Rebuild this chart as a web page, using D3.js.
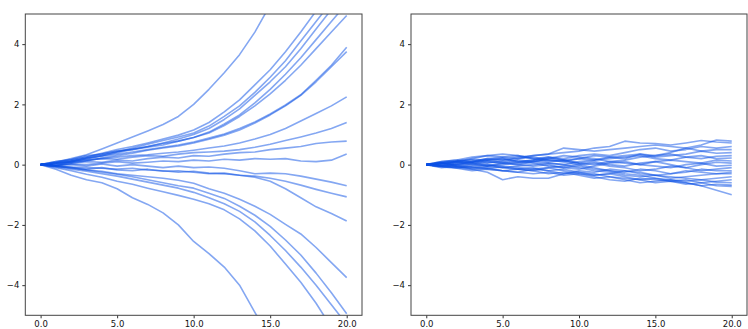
<!DOCTYPE html>
<html><head><meta charset="utf-8">
<script src="https://cdn.jsdelivr.net/npm/d3@7"></script>
<style>body{margin:0;background:#fff}svg{display:block}</style>
</head><body>
<svg id="c" width="748" height="329"></svg>
<script>
// time grid (x values)
const times = [0,1,2,3,4,5,6,7,8,9,10,11,12,13,14,15,16,17,18,19,20];
const xTicks = [0,5,10,15,20];
const yTicks = [-4,-2,0,2,4];

// left panel: diverging paths
const leftSeries = [
  [0,0.08,0.2,0.33,0.52,0.72,0.92,1.12,1.33,1.6,2.0,2.5,3.05,3.65,4.4,5.3,6.2,7.2,8.3,9.5,10.8],
  [0,0.05,0.15,0.25,0.38,0.5,0.6,0.72,0.85,0.98,1.15,1.4,1.75,2.15,2.65,3.15,3.75,4.4,5.1,5.9,6.7],
  [0,-0.02,0.1,0.2,0.3,0.42,0.55,0.68,0.8,0.92,1.05,1.28,1.6,1.95,2.4,2.9,3.45,4.1,4.75,5.4,6.1],
  [0,0.1,0.18,0.3,0.35,0.45,0.52,0.6,0.72,0.85,1.0,1.2,1.5,1.85,2.3,2.75,3.25,3.85,4.5,5.15,5.9],
  [0,0.05,0.1,0.22,0.3,0.4,0.5,0.58,0.65,0.78,0.9,1.08,1.35,1.65,2.05,2.5,3.0,3.55,4.15,4.75,5.35],
  [0,0.1,0.15,0.25,0.35,0.45,0.5,0.6,0.7,0.78,0.9,1.05,1.3,1.6,1.95,2.35,2.8,3.3,3.85,4.4,4.95],
  [0,0.05,0.12,0.2,0.28,0.35,0.42,0.5,0.58,0.65,0.75,0.88,1.02,1.2,1.42,1.68,1.98,2.32,2.8,3.3,3.9],
  [0,-0.05,0.05,0.12,0.22,0.3,0.38,0.48,0.55,0.62,0.72,0.84,0.98,1.15,1.38,1.65,1.95,2.3,2.75,3.25,3.75],
  [0,0.02,0.1,0.15,0.2,0.25,0.3,0.33,0.38,0.42,0.48,0.55,0.62,0.72,0.85,1.0,1.2,1.45,1.7,1.95,2.25],
  [0,0.05,0.08,0.15,0.2,0.18,0.25,0.3,0.28,0.35,0.4,0.42,0.45,0.5,0.58,0.68,0.8,0.92,1.05,1.2,1.4],
  [0,0.0,0.05,0.1,0.08,0.15,0.12,0.2,0.25,0.22,0.3,0.28,0.35,0.4,0.42,0.5,0.55,0.6,0.7,0.75,0.78],
  [0,-0.02,0.02,0.0,0.05,0.1,0.05,0.08,0.12,0.1,0.15,0.12,0.18,0.15,0.2,0.18,0.2,0.12,0.1,0.15,0.35],
  [0,-0.03,0.0,-0.05,0.02,-0.05,0.0,-0.05,-0.1,-0.05,-0.1,-0.08,-0.12,-0.2,-0.3,-0.28,-0.3,-0.38,-0.48,-0.58,-0.7],
  [0,-0.05,-0.08,-0.1,-0.12,-0.15,-0.12,-0.18,-0.2,-0.25,-0.22,-0.28,-0.3,-0.35,-0.38,-0.45,-0.55,-0.68,-0.82,-0.95,-1.07],
  [0,-0.05,-0.1,-0.15,-0.1,-0.18,-0.2,-0.15,-0.22,-0.2,-0.25,-0.3,-0.28,-0.35,-0.42,-0.55,-0.8,-1.1,-1.4,-1.62,-1.87],
  [0,-0.05,-0.12,-0.18,-0.22,-0.3,-0.35,-0.4,-0.45,-0.52,-0.62,-0.8,-0.95,-1.15,-1.38,-1.65,-1.98,-2.3,-2.75,-3.25,-3.75],
  [0,-0.1,-0.2,-0.32,-0.42,-0.55,-0.65,-0.78,-0.9,-1.02,-1.15,-1.3,-1.5,-1.8,-2.2,-2.7,-3.3,-3.9,-4.6,-5.4,-6.2],
  [0,-0.08,-0.15,-0.22,-0.3,-0.38,-0.48,-0.58,-0.68,-0.78,-0.92,-1.1,-1.3,-1.55,-1.9,-2.35,-2.85,-3.4,-4.0,-4.65,-5.3],
  [0,-0.05,-0.1,-0.18,-0.25,-0.32,-0.4,-0.5,-0.6,-0.7,-0.78,-0.95,-1.12,-1.38,-1.68,-2.05,-2.5,-3.0,-3.6,-4.25,-4.95],
  [0,-0.15,-0.35,-0.5,-0.6,-0.8,-1.1,-1.32,-1.6,-2.0,-2.55,-2.95,-3.4,-4.0,-4.9,-5.8,-6.8,-7.9,-9.0,-10.0,-11.0]
];

// right panel: bounded paths
const rightSeries = [
  [0,0.1,0.15,0.1,0.2,0.15,0.25,0.3,0.35,0.4,0.45,0.55,0.6,0.78,0.72,0.7,0.65,0.72,0.8,0.75,0.72],
  [0,0.05,0.1,0.2,0.3,0.25,0.2,0.3,0.35,0.55,0.5,0.45,0.5,0.55,0.6,0.65,0.6,0.55,0.65,0.82,0.78],
  [0,0.08,0.12,0.18,0.15,0.2,0.1,0.15,0.25,0.2,0.3,0.35,0.3,0.4,0.5,0.55,0.45,0.5,0.6,0.55,0.6],
  [0,-0.05,0.05,0.1,0.2,0.25,0.3,0.2,0.25,0.15,0.2,0.3,0.25,0.2,0.35,0.3,0.4,0.55,0.45,0.5,0.5],
  [0,0.05,0.02,0.1,0.05,0.12,0.2,0.25,0.15,0.1,0.2,0.15,0.25,0.3,0.35,0.25,0.3,0.35,0.45,0.38,0.4],
  [0,0.0,0.1,0.08,0.15,0.1,0.05,0.1,0.2,0.3,0.25,0.2,0.1,0.15,0.25,0.3,0.35,0.25,0.2,0.28,0.3],
  [0,0.05,-0.05,0.0,0.1,0.05,0.15,0.1,0.05,0.0,0.1,0.15,0.2,0.25,0.3,0.2,0.15,0.25,0.3,0.2,0.22],
  [0,-0.05,0.0,0.05,-0.05,0.0,0.08,0.15,0.2,0.15,0.05,0.0,0.1,0.05,0.0,0.1,0.15,0.1,0.05,0.15,0.12],
  [0,0.1,0.15,0.25,0.3,0.35,0.3,0.2,0.1,0.15,0.05,0.1,0.0,-0.05,0.05,0.1,0.0,-0.1,0.0,0.08,0.05],
  [0,0.02,-0.05,-0.1,-0.05,0.05,0.0,-0.05,0.0,-0.1,-0.15,-0.05,0.05,0.1,0.0,-0.05,-0.1,0.0,0.05,-0.05,-0.02],
  [0,-0.05,-0.1,-0.05,0.0,-0.1,-0.15,-0.2,-0.1,-0.05,0.0,0.05,-0.05,-0.1,-0.2,-0.15,-0.05,-0.1,-0.2,-0.15,-0.1],
  [0,0.05,0.1,0.05,0.15,0.2,0.1,0.05,-0.05,-0.1,-0.05,-0.15,-0.2,-0.25,-0.15,-0.2,-0.3,-0.25,-0.15,-0.2,-0.2],
  [0,-0.08,-0.12,-0.2,-0.15,-0.2,-0.25,-0.15,-0.2,-0.3,-0.25,-0.35,-0.3,-0.2,-0.25,-0.35,-0.3,-0.2,-0.25,-0.3,-0.25],
  [0,0.02,0.08,0.0,-0.05,-0.1,-0.05,0.0,0.05,0.0,-0.1,-0.2,-0.25,-0.35,-0.4,-0.35,-0.45,-0.4,-0.35,-0.3,-0.3],
  [0,-0.1,-0.05,-0.15,-0.25,-0.5,-0.4,-0.45,-0.45,-0.3,-0.2,-0.25,-0.15,-0.2,-0.3,-0.35,-0.4,-0.45,-0.5,-0.45,-0.4],
  [0,-0.05,-0.1,-0.15,-0.1,-0.2,-0.25,-0.3,-0.25,-0.35,-0.3,-0.4,-0.5,-0.55,-0.45,-0.5,-0.55,-0.5,-0.6,-0.55,-0.5],
  [0,0.05,0.0,-0.08,-0.12,-0.08,-0.15,-0.2,-0.3,-0.25,-0.35,-0.45,-0.4,-0.5,-0.6,-0.55,-0.5,-0.55,-0.5,-0.58,-0.6],
  [0,-0.02,-0.08,-0.1,-0.15,-0.2,-0.15,-0.1,-0.2,-0.15,-0.25,-0.3,-0.4,-0.45,-0.5,-0.6,-0.55,-0.6,-0.7,-0.65,-0.68],
  [0,-0.05,0.0,0.05,0.0,-0.05,-0.1,-0.15,-0.1,-0.2,-0.3,-0.35,-0.3,-0.4,-0.5,-0.45,-0.55,-0.65,-0.6,-0.7,-0.72],
  [0,0.05,0.1,0.15,0.1,0.05,0.0,0.1,0.15,0.1,0.0,-0.1,-0.2,-0.3,-0.35,-0.45,-0.5,-0.6,-0.7,-0.85,-1.0]
];

const svg = d3.select("#c");
const fmtX = d => d.toFixed(1);
const fmtY = d => (d < 0 ? "\u2212" + Math.abs(d) : String(d));

function panel(id, x0, x1, series) {
  const top = 14, bottom = 315.3;
  const x = d3.scaleLinear().domain([-1, 21]).range([x0, x1]);
  const y = d3.scaleLinear().domain([-5, 5]).range([bottom, top]);
  const g = svg.append("g");
  g.append("clipPath").attr("id", id).append("rect")
    .attr("x", x0).attr("y", top).attr("width", x1 - x0).attr("height", bottom - top);
  const line = d3.line().x((d, i) => x(times[i])).y(d => y(d));
  g.append("g").attr("clip-path", `url(#${id})`)
    .selectAll("path").data(series).join("path")
    .attr("d", line)
    .attr("fill", "none")
    .attr("stroke", "#0a50e6")
    .attr("stroke-opacity", 0.5)
    .attr("stroke-width", 1.6)
    .attr("stroke-linejoin", "round");
  const ax = g.append("g").attr("transform", `translate(0,${bottom})`)
    .call(d3.axisBottom(x).tickValues(xTicks).tickFormat(fmtX).tickSize(3).tickPadding(2.5));
  const ay = g.append("g").attr("transform", `translate(${x0},0)`)
    .call(d3.axisLeft(y).tickValues(yTicks).tickFormat(fmtY).tickSize(3).tickPadding(3));
  [ax, ay].forEach(a => {
    a.select(".domain").remove();
    a.selectAll("line").attr("stroke", "#333");
    a.selectAll("text").attr("font-family", "DejaVu Sans").attr("font-size", 8.5).attr("fill", "#111");
  });
  g.append("rect").attr("x", x0).attr("y", top).attr("width", x1 - x0).attr("height", bottom - top)
    .attr("fill", "none").attr("stroke", "#444").attr("stroke-width", 1);
}
panel("clipL", 25.3, 362, leftSeries);
panel("clipR", 411, 747, rightSeries);
</script>
</body></html>
